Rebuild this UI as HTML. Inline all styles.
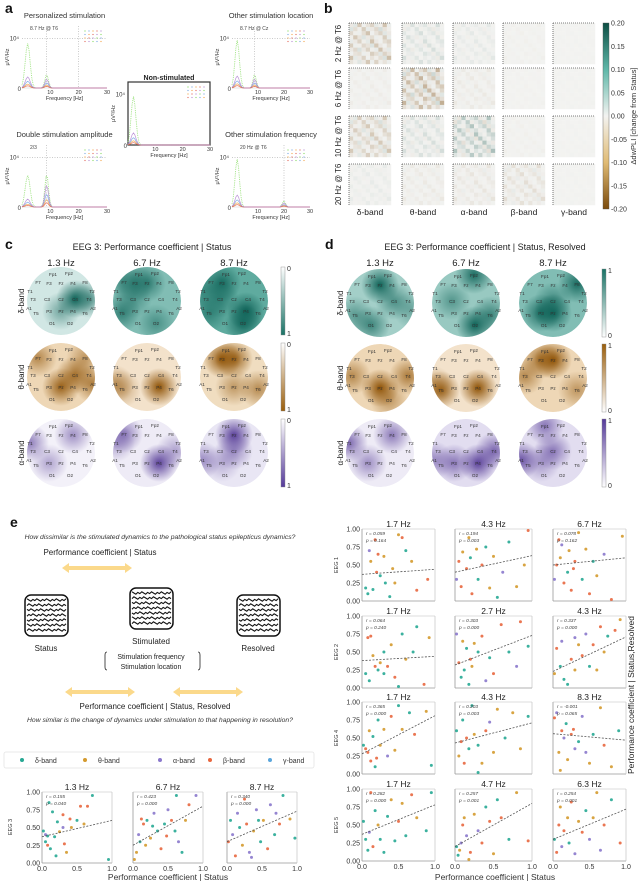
<!DOCTYPE html>
<html><head><meta charset="utf-8"><style>
body{margin:0;background:#fff}
svg{display:block;font-family:"Liberation Sans",sans-serif}
</style></head><body>
<svg id="fig" width="640" height="881" viewBox="0 0 640 881" xmlns="http://www.w3.org/2000/svg">
<defs>
<linearGradient id="cbB" x1="0" y1="0" x2="0" y2="1"><stop offset="0" stop-color="#0d4f45"/><stop offset="0.25" stop-color="#5fb7a8"/><stop offset="0.5" stop-color="#f3f3f1"/><stop offset="0.75" stop-color="#e0bb74"/><stop offset="1" stop-color="#7a4a0c"/></linearGradient>
<linearGradient id="cbT" x1="0" y1="0" x2="0" y2="1"><stop offset="0" stop-color="#fff"/><stop offset="1" stop-color="#1a7366"/></linearGradient>
<linearGradient id="cbO" x1="0" y1="0" x2="0" y2="1"><stop offset="0" stop-color="#fff"/><stop offset="1" stop-color="#9a5e0c"/></linearGradient>
<linearGradient id="cbP" x1="0" y1="0" x2="0" y2="1"><stop offset="0" stop-color="#fff"/><stop offset="1" stop-color="#553a9a"/></linearGradient>
<linearGradient id="cbTr" x1="0" y1="1" x2="0" y2="0"><stop offset="0" stop-color="#fff"/><stop offset="1" stop-color="#1a7366"/></linearGradient>
<linearGradient id="cbOr" x1="0" y1="1" x2="0" y2="0"><stop offset="0" stop-color="#fff"/><stop offset="1" stop-color="#9a5e0c"/></linearGradient>
<linearGradient id="cbPr" x1="0" y1="1" x2="0" y2="0"><stop offset="0" stop-color="#fff"/><stop offset="1" stop-color="#553a9a"/></linearGradient>
<radialGradient id="gT"><stop offset="0" stop-color="#0f6358" stop-opacity="1"/><stop offset="1" stop-color="#0f6358" stop-opacity="0"/></radialGradient>
<radialGradient id="gO"><stop offset="0" stop-color="#8f5306" stop-opacity="1"/><stop offset="1" stop-color="#8f5306" stop-opacity="0"/></radialGradient>
<radialGradient id="gP"><stop offset="0" stop-color="#4b2f90" stop-opacity="1"/><stop offset="1" stop-color="#4b2f90" stop-opacity="0"/></radialGradient>
</defs>
<g id="root"></g>
</svg>
<script>
// ---------- data ----------
const bandNames = ['δ-band','θ-band','α-band','β-band','γ-band'];
const bandColors = ['#26a893','#d49a2e','#8a78cc','#e8673f','#5aa6dc'];
const specTitles = ['Personalized stimulation','Other stimulation location','Double stimulation amplitude','Other stimulation frequency'];
const specSubs = ['8.7 Hz @ T6','8.7 Hz @ Cz','2/3','20 Hz @ T6'];
const specStimFreq = [8.7, 8.7, 8.7, 20];
const specStimHeight = [0.22, 0.22, 0.55, 0.1];
const specBaseHeight = [0.28, 0.3, 0.2, 0.3];
const specSeriesScale = [1.0, 0.6, 0.35, 0.2];
const bRowLabels = ['2 Hz @ T6','6 Hz @ T6','10 Hz @ T6','20 Hz @ T6'];
const bCellStrength = [
 [-0.7,0.3,0.15,-0.05,0.02],
 [-0.1,-0.9,-0.15,-0.03,0.02],
 [-0.6,0.3,0.7,-0.05,0.02],
 [0.12,-0.15,-0.2,-0.3,0.02]];
const bPattern = [
 [0.2,-0.5,0.8,-0.1,0.3,0.6,-0.4,0.1,0.9,-0.2],
 [-0.6,0.4,0.1,0.7,-0.3,0.2,0.5,-0.8,0.3,0.1],
 [0.5,0.1,-0.2,0.4,0.9,-0.1,0.3,0.6,-0.5,0.2],
 [0.1,0.8,0.3,-0.6,0.2,0.4,-0.2,0.1,0.7,-0.3],
 [-0.3,0.2,0.6,0.1,-0.4,0.9,0.2,-0.1,0.4,0.6],
 [0.7,-0.2,0.1,0.5,0.3,-0.6,0.8,0.2,-0.1,0.4],
 [0.2,0.5,-0.7,0.2,0.6,0.1,-0.3,0.9,0.2,-0.4],
 [-0.1,0.3,0.4,-0.2,0.1,0.7,0.4,-0.5,0.6,0.3],
 [0.9,-0.4,0.2,0.6,-0.1,0.3,0.1,0.4,-0.7,1.0],
 [0.3,0.1,-0.5,0.2,0.8,-0.2,0.6,0.1,0.3,-0.2]];
const bTicks = [0.20,0.15,0.10,0.05,0.00,-0.05,-0.10,-0.15,-0.20];
const topoFreqs = ['1.3 Hz','6.7 Hz','8.7 Hz'];
const cBase = [[0.2,0.55,0.7],[0.35,0.25,0.3],[0.08,0.12,0.15]];
const cBlobs = [
 [[['C4',1],['Pz',0.5],['T4',0.6]], [['Fz',0.7],['F3',0.6],['T5',0.7],['C3',0.5],['O2',0.5],['F7',0.5]], [['F3',0.9],['P4',1],['O2',0.9],['T5',0.6],['C3',0.6],['T1',0.5]]],
 [[['C4',0.8],['Pz',0.9],['A2',0.7],['F7',0.6],['F8',0.5]], [['P4',1],['A1',0.5],['T5',0.4]], [['F3',1],['Fz',0.9],['T6',0.6],['Pz',0.5]]],
 [[['T1',0.6],['F4',0.5],['P3',0.4]], [['F7',0.6],['T1',0.4],['P4',0.9],['T4',0.4]], [['Fz',0.9],['Cz',0.5],['A1',0.5],['P3',0.3]]]];
const dBase = [[0.4,0.45,0.55],[0.35,0.25,0.35],[0.12,0.2,0.2]];
const dBlobs = [
 [[['Fz',1],['C4',0.6],['O1',0.7],['A2',0.4],['T5',0.5]], [['Fp2',0.9],['O2',1],['C3',0.5],['T6',0.7]], [['Pz',1],['P3',0.9],['F8',0.9],['Cz',0.6]]],
 [[['Pz',1],['T4',0.7],['T3',0.6],['O2',0.5]], [['P4',1],['T5',0.9],['A1',0.4]], [['Fz',1],['F3',0.8],['T3',0.6],['T6',0.5]]],
 [[['T1',0.7],['F4',0.6],['P3',0.5]], [['P4',0.9],['T4',0.7],['P3',0.6],['A1',0.5]], [['Fp1',0.6],['Cz',0.6],['A1',0.8],['P3',0.4]]]];
const eLeftTitles = ['1.3 Hz','6.7 Hz','8.7 Hz'];
const eLeftStats = [['r = 0.155','p = 0.040'],['r = 0.423','p = 0.000'],['r = 0.340','p = 0.000']];
const eLeftFit = [[0.37,0.60],[0.25,0.80],[0.30,0.73]];
const eLeftPts = [
 [[0.02,0.45,0],[0.05,0.30,0],[0.08,0.38,0],[0.1,0.85,0],[0.12,0.2,0],[0.15,0.72,0],[0.18,0.37,0],[0.2,0.1,0],[0.25,0.44,1],[0.3,0.5,2],[0.32,0.27,3],[0.35,0.15,1],[0.4,0.62,3],[0.5,0.6,0],[0.55,0.8,3],[0.6,0.55,1],[0.65,0.8,3],[0.72,0.95,0],[0.08,0.25,3],[0.22,0.58,0],[0.3,0.68,3],[0.42,0.5,1],[0.05,0.4,2],[0.95,0.05,0]],
 [[0.02,0.05,1],[0.05,0.15,1],[0.08,0.4,2],[0.1,0.3,0],[0.15,0.55,3],[0.18,0.25,1],[0.2,0.6,0],[0.25,0.35,1],[0.3,0.7,2],[0.35,0.45,0],[0.4,0.2,3],[0.45,0.55,0],[0.5,0.75,2],[0.55,0.6,3],[0.6,0.45,0],[0.65,0.3,2],[0.7,0.15,0],[0.75,0.6,1],[0.8,0.82,3],[0.9,0.95,2],[0.28,0.52,0],[0.12,0.62,3],[0.48,0.38,3],[0.62,0.95,0]],
 [[0.02,0.3,3],[0.05,0.6,0],[0.08,0.4,2],[0.12,0.1,3],[0.15,0.7,2],[0.18,0.5,0],[0.22,0.25,1],[0.28,0.55,3],[0.32,0.15,2],[0.38,0.45,1],[0.42,0.75,2],[0.48,0.3,0],[0.52,0.6,1],[0.58,0.2,3],[0.62,0.82,2],[0.68,0.4,0],[0.75,0.55,3],[0.8,0.95,0],[0.9,0.62,1],[0.97,0.35,0],[0.25,0.9,3],[0.45,0.6,0],[0.35,0.08,2],[0.7,0.7,2]]];
const eRightRows = ['EEG 1','EEG 2','EEG 4','EEG 5'];
const eRightTitles = [['1.7 Hz','4.3 Hz','6.7 Hz'],['1.7 Hz','2.7 Hz','4.3 Hz'],['1.7 Hz','4.3 Hz','8.3 Hz'],['1.7 Hz','4.7 Hz','6.3 Hz']];
const eRightStats = [
 [['r = 0.059','p = 0.164'],['r = 0.194','p = 0.003'],['r = 0.078','p = 0.162']],
 [['r = 0.064','p = 0.240'],['r = 0.303','p = 0.000'],['r = 0.337','p = 0.000']],
 [['r = 0.365','p = 0.000'],['r = 0.203','p = 0.003'],['r = -0.001','p = 0.065']],
 [['r = 0.282','p = 0.000'],['r = 0.257','p = 0.001'],['r = 0.254','p = 0.001']]];
const eRightFit = [
 [[0.37,0.44],[0.40,0.63],[0.50,0.60]],
 [[0.38,0.44],[0.32,0.73],[0.23,0.71]],
 [[0.28,0.81],[0.43,0.71],[0.56,0.47]],
 [[0.37,0.78],[0.20,0.80],[0.30,0.72]]];
const eRightPts = [
 [[[0.05,0.18,0],[0.08,0.1,0],[0.12,0.55,1],[0.15,0.16,0],[0.18,0.85,3],[0.2,0.4,3],[0.25,0.35,0],[0.3,0.62,1],[0.32,0.25,0],[0.38,0.06,0],[0.42,0.45,1],[0.5,0.92,1],[0.55,0.88,3],[0.6,0.7,0],[0.68,0.55,1],[0.75,0.15,3],[0.9,0.3,3],[0.22,0.65,3],[0.1,0.7,2],[0.45,0.25,1]],
  [[0.02,0.3,2],[0.05,0.55,3],[0.08,0.2,3],[0.1,0.68,1],[0.15,0.45,3],[0.2,0.6,0],[0.22,0.1,3],[0.28,0.72,1],[0.3,0.3,0],[0.35,0.5,3],[0.4,0.75,0],[0.45,0.18,1],[0.5,0.62,1],[0.55,0.05,0],[0.62,0.4,2],[0.7,0.82,0],[0.8,0.2,1],[0.9,0.5,1],[0.95,0.98,3],[0.18,0.88,1]],
  [[0.02,0.3,2],[0.05,0.5,3],[0.08,0.85,3],[0.1,0.6,1],[0.15,0.25,3],[0.2,0.4,0],[0.22,0.7,1],[0.25,0.15,3],[0.3,0.55,3],[0.35,0.95,1],[0.4,0.3,0],[0.45,0.72,1],[0.5,0.1,3],[0.55,0.55,0],[0.6,0.35,1],[0.7,0.65,2],[0.8,0.02,3],[0.95,0.9,1],[0.12,0.78,2],[0.28,0.45,3]]],
 [[[0.05,0.2,0],[0.08,0.7,3],[0.1,0.1,0],[0.15,0.45,1],[0.18,0.3,3],[0.22,0.25,0],[0.25,0.35,1],[0.3,0.5,0],[0.35,0.3,3],[0.4,0.6,1],[0.45,0.15,3],[0.5,0.02,0],[0.55,0.75,0],[0.6,0.4,1],[0.7,0.5,0],[0.75,0.85,0],[0.85,0.05,3],[0.92,0.7,1],[0.12,0.72,3],[0.3,0.2,0]],
  [[0.02,0.75,2],[0.05,0.35,3],[0.08,0.15,0],[0.1,0.65,1],[0.12,0.25,0],[0.15,0.55,0],[0.2,0.4,3],[0.22,0.3,1],[0.25,0.62,1],[0.3,0.5,0],[0.35,0.72,3],[0.4,0.1,2],[0.45,0.42,0],[0.5,0.2,3],[0.6,0.88,3],[0.7,0.5,0],[0.8,0.3,2],[0.85,0.92,3],[0.95,0.58,0],[0.18,0.05,0]],
  [[0.02,0.2,1],[0.05,0.55,3],[0.1,0.3,0],[0.12,0.65,2],[0.15,0.12,0],[0.2,0.05,0],[0.25,0.4,3],[0.3,0.25,1],[0.35,0.6,1],[0.4,0.45,3],[0.45,0.75,2],[0.5,0.3,0],[0.55,0.6,3],[0.6,0.25,1],[0.65,0.85,3],[0.7,0.5,1],[0.75,0.72,0],[0.85,0.8,3],[0.92,0.95,1],[0.3,0.7,2]]],
 [[[0.02,0.4,0],[0.05,0.35,3],[0.08,0.3,3],[0.1,0.6,1],[0.12,0.18,3],[0.15,0.52,0],[0.18,0.1,0],[0.22,0.75,0],[0.25,0.4,1],[0.3,0.62,1],[0.35,0.25,2],[0.4,0.8,3],[0.45,0.33,1],[0.5,0.95,0],[0.55,0.62,1],[0.65,0.85,0],[0.72,0.55,3],[0.88,0.87,1],[0.2,0.22,3],[0.95,0.12,0]],
  [[0.02,0.6,0],[0.05,0.25,1],[0.08,0.45,3],[0.1,0.75,0],[0.12,0.15,3],[0.15,0.5,3],[0.18,0.35,0],[0.22,0.95,0],[0.25,0.55,1],[0.3,0.4,0],[0.35,0.15,1],[0.4,0.6,3],[0.45,0.72,2],[0.5,0.3,1],[0.55,0.9,1],[0.65,0.5,0],[0.75,0.85,1],[0.85,0.35,1],[0.95,0.8,0],[0.3,0.02,0]],
  [[0.02,0.78,3],[0.05,0.85,2],[0.08,0.3,1],[0.1,0.05,1],[0.12,0.6,3],[0.15,0.5,2],[0.18,0.7,0],[0.2,0.2,1],[0.25,0.55,3],[0.3,0.35,2],[0.35,0.45,0],[0.4,0.8,2],[0.45,0.3,2],[0.5,0.15,1],[0.55,0.55,0],[0.65,0.92,1],[0.7,0.4,3],[0.8,0.1,1],[0.9,0.6,0],[0.28,0.62,3]]],
 [[[0.02,0.55,0],[0.05,0.3,0],[0.08,0.15,0],[0.1,0.4,2],[0.15,0.2,3],[0.18,0.7,0],[0.22,0.5,1],[0.25,0.3,0],[0.3,0.12,0],[0.35,0.62,0],[0.4,0.85,1],[0.45,0.28,0],[0.5,0.55,3],[0.55,0.8,1],[0.6,0.35,0],[0.68,0.92,3],[0.75,0.6,1],[0.88,0.42,0],[0.95,0.95,0],[0.12,0.95,3]],
  [[0.02,0.2,0],[0.04,0.08,0],[0.06,0.15,1],[0.08,0.25,2],[0.1,0.5,3],[0.12,0.6,1],[0.15,0.35,2],[0.2,0.12,3],[0.25,0.65,1],[0.3,0.42,2],[0.35,0.25,3],[0.4,0.75,0],[0.45,0.55,3],[0.5,0.1,1],[0.55,0.85,0],[0.6,0.6,3],[0.7,0.3,0],[0.8,0.95,1],[0.95,0.28,3],[0.18,0.02,1]],
  [[0.02,0.3,0],[0.05,0.12,3],[0.08,0.5,3],[0.1,0.75,1],[0.12,0.2,2],[0.15,0.42,3],[0.2,0.6,1],[0.22,0.25,0],[0.25,0.82,3],[0.3,0.1,2],[0.35,0.55,1],[0.4,0.4,3],[0.45,0.7,0],[0.5,0.3,2],[0.55,0.6,1],[0.65,0.15,2],[0.7,0.5,3],[0.8,0.85,0],[0.92,0.25,3],[0.6,0.95,1]]]];

// ---------- helpers ----------
const NS='http://www.w3.org/2000/svg';
const root=document.getElementById('root');
function mk(tag,attrs,parent,text){const e=document.createElementNS(NS,tag);for(const k in attrs)e.setAttribute(k,attrs[k]);if(text!==undefined)e.textContent=text;(parent||root).appendChild(e);return e;}
function txt(x,y,s,size,opts,parent){opts=opts||{};const a={x:x,y:y,'font-size':size,fill:opts.fill||'#222','text-anchor':opts.anchor||'start'};if(opts.weight)a['font-weight']=opts.weight;if(opts.style)a['font-style']=opts.style;if(opts.rot!==undefined)a.transform='rotate('+opts.rot+' '+x+' '+y+')';return mk('text',a,parent,s);}

[['a',5,13],['b',324,13],['c',5,249],['d',325,249],['e',10,527]].forEach(l=>{const t=txt(l[1],l[2],l[0],14,{weight:'bold',fill:'#111'});});

// ---------- panel a ----------
function spectrum(x0,y0,w,h,idx,title,sub,boxed){
 const g=mk('g',{});
 
 
 const fx=f=>x0+f/30*w, fy=v=>y0+h-v*h*0.8;
 if(title){txt(x0+w/2,y0-8,title,7.5,{anchor:'middle',fill:'#333'},g);}
 if(sub)txt(x0+8,y0+4,sub,5,{fill:'#444'},g);
 if(boxed)mk('rect',{x:x0,y:y0,width:w,height:h,fill:'none',stroke:'#333','stroke-width':1.2},g);
 else{mk('line',{x1:x0,y1:y0+h,x2:x0+w,y2:y0+h,stroke:'#ccc','stroke-width':0.6},g);}
 txt(x0-3,fy(1)+2,'10⁴',6,{anchor:'end',fill:'#333'},g);
 txt(x0-1,y0+h+3,'0',6,{anchor:'end',fill:'#333'},g);
 txt(x0-13,y0+h/2,'μV²/Hz',5.5,{rot:-90,anchor:'middle',fill:'#333'},g);
 if(!boxed&&idx!==null){mk('line',{x1:x0,y1:fy(1),x2:x0+w,y2:fy(1),stroke:'#aaa','stroke-dasharray':'1,1.5','stroke-width':0.6},g);
  mk('line',{x1:fx(specStimFreq[idx]),y1:y0,x2:fx(specStimFreq[idx]),y2:y0+h,stroke:'#aaa','stroke-dasharray':'1,1.5','stroke-width':0.6},g);
  if(idx===0){mk('line',{x1:fx(20),y1:y0,x2:fx(20),y2:y0+h,stroke:'#aaa','stroke-dasharray':'1,1.5','stroke-width':0.6},g);}}
 [0,10,20,30].forEach(t=>{if(t)txt(fx(t),y0+h+6,String(t),5.5,{anchor:'middle',fill:'#333'},g);});
 txt(x0+w/2,y0+h+12,'Frequency [Hz]',5.5,{anchor:'middle',fill:'#333'},g);
 const sf=idx===null?null:specStimFreq[idx], sh=idx===null?0:specStimHeight[idx], bh=idx===null?0.3:specBaseHeight[idx];
 const cols=['#7ed957','#6fa0e0','#f0a040','#e06050','#b080d0'];
 cols.forEach((c,k)=>{const sc=specSeriesScale[k%4]*(k===0?1:0.8);let d='';
  for(let f=0;f<=30;f+=0.5){let v=bh*sc*Math.exp(-Math.pow((f-2)/1.2,2))*(k===0?3.2:1);if(sf!==null)v+=sh*sc*Math.exp(-Math.pow((f-sf)/0.9,2))*(k===0?1.2:1);d+=(f?'L':'M')+fx(f).toFixed(1)+','+fy(Math.min(v,1.2)).toFixed(1);}
  mk('path',{d:d,fill:'none',stroke:c,'stroke-width':k===0?0.9:0.7,'stroke-dasharray':k===0?'0.8,1':'none',opacity:0.85},g);});
 for(let i=0;i<5;i++)for(let j=0;j<4;j++)mk('circle',{cx:x0+w-22+i*4,cy:y0+5+j*3.5,r:0.6,fill:cols[(i+j)%5]},g);
 return g;
}
spectrum(22,26,85,62,0,specTitles[0],specSubs[0],false);
spectrum(232,26,78,62,1,specTitles[1],specSubs[1],false);
spectrum(22,145,85,62,2,specTitles[2],specSubs[2],false);
spectrum(232,145,78,62,3,specTitles[3],specSubs[3],false);
spectrum(128,82,82,63,null,null,null,true);
{const t=txt(169,80,'Non-stimulated',7,{anchor:'middle',weight:'bold',fill:'#222'});}

// ---------- panel b ----------
function divColor(v){v=Math.max(-1,Math.min(1,v));const w=[243,243,241];const pos=[13,79,69],neg=[122,74,12];const t=Math.abs(v);const c=v>=0?pos:neg;return 'rgb('+w.map((a,i)=>Math.round(a+(c[i]-a)*t)).join(',')+')';}
const bColX=[349,402,453,503,553], bRowY=[23,68,116,164], bW=42, bH=41;
bRowLabels.forEach((lab,r)=>{const t=txt(341,bRowY[r]+bH/2,lab,7.8,{rot:-90,anchor:'middle',fill:'#222'});});
bandNames.forEach((lab,c)=>{const t=txt(bColX[c]+bW/2,215,lab,8.5,{anchor:'middle',fill:'#222'});});
for(let r=0;r<4;r++)for(let c=0;c<5;c++){
 const g=mk('g',{});
 
 
 const n=10,cw=bW/n,ch=bH/n;
 for(let i=0;i<n;i++)for(let j=0;j<n;j++){
  const p=bPattern[i][j], v=bCellStrength[r][c]*Math.abs(p)*(p<0?-0.5:1)*0.45;
  const cell=mk('rect',{x:bColX[c]+j*cw,y:bRowY[r]+i*ch,width:cw+0.2,height:ch+0.2,fill:divColor(v)},g);
  
  }
 mk('line',{x1:bColX[c],y1:bRowY[r],x2:bColX[c],y2:bRowY[r]+bH,stroke:'#555','stroke-width':0.8,'stroke-dasharray':'1,1'},g);
 mk('line',{x1:bColX[c],y1:bRowY[r],x2:bColX[c]+bW,y2:bRowY[r],stroke:'#555','stroke-width':0.8,'stroke-dasharray':'1,1'},g);
}
{const cb=mk('rect',{x:603,y:23,width:6,height:186,fill:'url(#cbB)',stroke:'#555','stroke-width':0.4});
 bTicks.forEach((t,i)=>{const y=23+i*186/(bTicks.length-1);txt(611,y+2.5,t.toFixed(2),7,{fill:'#333'});});
 const lt=txt(636,116,'ΔdwPLI [change from Status]',7.5,{rot:-90,anchor:'middle',fill:'#333'});}

// ---------- panels c, d ----------
const elec={Fp1:[-8,-27],Fp2:[8,-28],F7:[-23,-19],F3:[-12,-18],Fz:[0,-18],F4:[12,-18],F8:[24,-19],T1:[-31,-10],T2:[31,-10],T3:[-28,-2],C3:[-14,-2],Cz:[0,-2],C4:[14,-2],T4:[28,-2],A1:[-32,7],A2:[32,7],T5:[-25,12],P3:[-12,10],Pz:[0,10],P4:[12,10],T6:[24,12],O1:[-9,22],O2:[9,22]};
const bandCol=[{grad:'gT',base:[26,135,118],cb:'cbT',cbr:'cbTr'},{grad:'gO',base:[205,140,45],cb:'cbO',cbr:'cbOr'},{grad:'gP',base:[110,85,180],cb:'cbP',cbr:'cbPr'}];
let clipId=0;
function topo(cx,cy,band,base,blobs){
 const g=mk('g',{});
 
 
 const id='cl'+(clipId++);
 const cp=mk('clipPath',{id:id},g);mk('circle',{cx:cx,cy:cy,r:34},cp);
 const inner=mk('g',{'clip-path':'url(#'+id+')'},g);
 const bc=bandCol[band].base;
 const bg='rgb('+bc.map(a=>Math.round(255+(a-255)*base)).join(',')+')';
 mk('circle',{cx:cx,cy:cy,r:34,fill:bg},inner);
 blobs.forEach(b=>{const p=elec[b[0]];const bl=mk('circle',{cx:cx+p[0],cy:cy+p[1],r:19,fill:'url(#'+bandCol[band].grad+')',opacity:Math.min(1,b[1])},inner);});
 for(const k in elec){const p=elec[k];txt(cx+p[0],cy+p[1]+1.8,k,4.6,{anchor:'middle',fill:'#333'},g);}
}
function topoPanel(xs,ys,title,titleX,base,blobs,cbx,reversed){
 const t=txt(titleX,250,title,9,{anchor:'middle',fill:'#222'});
 topoFreqs.forEach((f,i)=>{const ft=txt(xs[i],266,f,9.5,{anchor:'middle',fill:'#222'});});
 ['δ-band','θ-band','α-band'].forEach((b,r)=>{const bt=txt(xs[0]-37,ys[r],b,8,{rot:-90,anchor:'middle',fill:'#222'});
  for(let i=0;i<3;i++)topo(xs[i],ys[r],r,base[r][i],blobs[r][i]);
  const cb=mk('rect',{x:cbx,y:ys[r]-34,width:4,height:68,fill:'url(#'+(reversed?bandCol[r].cbr:bandCol[r].cb)+')',stroke:'#888','stroke-width':0.4});
  txt(cbx+6,ys[r]-30,reversed?'1':'0',7,{fill:'#333'});txt(cbx+6,ys[r]+35,reversed?'0':'1',7,{fill:'#333'});});
}
topoPanel([61,147,234],[301,377,453],'EEG 3: Performance coefficient | Status',152,cBase,cBlobs,281,false);
topoPanel([380,466,553],[303,378,453],'EEG 3: Performance coefficient | Status, Resolved',485,dBase,dBlobs,602,true);

// ---------- panel e schematic ----------
txt(160,539,'How dissimilar is the stimulated dynamics to the pathological status epilepticus dynamics?',6.8,{anchor:'middle',style:'italic',fill:'#333'});
txt(100,555,'Performance coefficient | Status',8,{anchor:'middle',fill:'#222'});
function arrow(x1,x2,y){const a=mk('path',{d:`M${x1},${y} l7,-5 v3 H${x2-7} v-3 l7,5 l-7,5 v-3 H${x1+7} v3 z`,fill:'#fbd98b'});}
arrow(62,132,568);arrow(65,135,692);arrow(173,243,692);
function eegBox(x,y,name){const g=mk('g',{});
 mk('rect',{x:x,y:y,width:43,height:41,rx:6,fill:'#fff',stroke:'#111','stroke-width':1.5},g);
 for(let i=0;i<7;i++){let d='';for(let k=0;k<=20;k++){const xx=x+2+k*1.95;const yy=y+5+i*5+((k*7+i*3)%5-2)*0.6;d+=(k?'L':'M')+xx.toFixed(1)+','+yy.toFixed(1);}mk('path',{d:d,fill:'none',stroke:'#111','stroke-width':1.1},g);}}
eegBox(25,595,'status-eeg-icon');eegBox(130,588,'stimulated-eeg-icon');eegBox(237,595,'resolved-eeg-icon');
txt(46,651,'Status',8,{anchor:'middle'});txt(151,644,'Stimulated',8,{anchor:'middle'});txt(258,651,'Resolved',8,{anchor:'middle'});
txt(151,659,'Stimulation frequency',7,{anchor:'middle'});txt(151,669,'Stimulation location',7,{anchor:'middle'});
mk('path',{d:'M107,652 q-2,0 -2,3 v12 q0,3 2,3',fill:'none',stroke:'#222','stroke-width':0.8});
mk('path',{d:'M198,652 q2,0 2,3 v12 q0,3 -2,3',fill:'none',stroke:'#222','stroke-width':0.8});
txt(155,709,'Performance coefficient | Status, Resolved',8,{anchor:'middle'});
txt(160,722,'How similar is the change of dynamics under stimulation to that happening in resolution?',6.8,{anchor:'middle',style:'italic',fill:'#333'});
{const lg=mk('g',{});
 mk('rect',{x:4,y:752,width:310,height:16,fill:'#fff',stroke:'#e4e4e4','stroke-width':0.8,rx:2},lg);
 const lx=[22,85,160,210,270];
 bandNames.forEach((b,i)=>{const d=mk('circle',{cx:lx[i],cy:760,r:2,fill:bandColors[i]},lg);txt(lx[i]+13,763,b,7,{fill:'#333'},lg);});}

// ---------- scatter ----------
function scatter(x0,y0,w,h,pts,fit,title,stats,showY,showX){
 const g=mk('g',{});
 
 
 const sx=v=>x0+v*w, sy=v=>y0+h-v*h;
 txt(x0+w/2,y0-2,title,8.5,{anchor:'middle',fill:'#222'},g);
 mk('line',{x1:x0,y1:y0,x2:x0,y2:y0+h,stroke:'#999','stroke-width':0.8},g);
 mk('line',{x1:x0,y1:y0+h,x2:x0+w,y2:y0+h,stroke:'#999','stroke-width':0.8},g);
 mk('line',{x1:x0+w,y1:y0,x2:x0+w,y2:y0+h,stroke:'#bbb','stroke-width':0.6},g);
 mk('line',{x1:x0,y1:y0,x2:x0+w,y2:y0,stroke:'#bbb','stroke-width':0.6},g);
 if(showY)[0,0.25,0.5,0.75,1].forEach(t=>txt(x0-2,sy(t)+2.5,t.toFixed(2),7,{anchor:'end',fill:'#333'},g));
 if(showX)[0,0.5,1].forEach(t=>txt(sx(t),y0+h+8,t.toFixed(1),7,{anchor:'middle',fill:'#333'},g));
 pts.forEach(p=>{const c=mk('circle',{cx:sx(p[0]),cy:sy(p[1]),r:1.5,fill:bandColors[p[2]],opacity:0.9},g);});
 const fl=mk('line',{x1:sx(0),y1:sy(fit[0]),x2:sx(1),y2:sy(fit[1]),stroke:'#555','stroke-width':0.8,'stroke-dasharray':'2,1.5'},g);
 
 txt(x0+4,y0+6,stats[0],4.8,{fill:'#444',style:'italic'},g);txt(x0+4,y0+13,stats[1],4.8,{fill:'#444',style:'italic'},g);
}
const eLX=[42,133,227];
eLX.forEach((x,i)=>scatter(x,792,70,71,eLeftPts[i],eLeftFit[i],eLeftTitles[i],eLeftStats[i],i===0,true));
txt(12,827,'EEG 3',5.5,{rot:-90,anchor:'middle',fill:'#333'});
{const t=txt(168,880,'Performance coefficient | Status',8.5,{anchor:'middle',fill:'#333'});}
const eRX=[362,455,553], eRY=[529,616,702,789];
eRY.forEach((y,r)=>{eRX.forEach((x,c)=>scatter(x,y,c===1?77:73,72,eRightPts[r][c],eRightFit[r][c],eRightTitles[r][c],eRightStats[r][c],c===0,r===3));
 txt(338,y+36,eRightRows[r],5.5,{rot:-90,anchor:'middle',fill:'#333'});});
{const t=txt(495,880,'Performance coefficient | Status',8.5,{anchor:'middle',fill:'#333'});}
{const t=txt(634,695,'Performance coefficient | Status,Resolved',8.5,{rot:-90,anchor:'middle',fill:'#222'});}
</script>
</body></html>
